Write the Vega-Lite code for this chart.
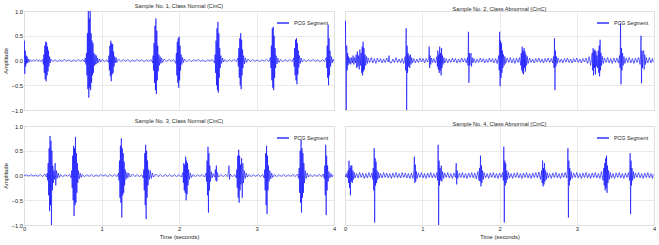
{
"$schema": "https://vega.github.io/schema/vega-lite/v6.json",
"background": "white",
"padding": {"left": 2, "top": 3, "right": 4, "bottom": 2},
"config": {
 "font": "Liberation Sans",
 "view": {"stroke": "#cccccc", "strokeWidth": 1},
 "axis": {"grid": true, "gridColor": "#e3e3e3", "gridWidth": 0.8, "domain": false, "ticks": false, "labelFontSize": 5.8, "labelColor": "#262626", "titleFontSize": 5.8, "titleFontWeight": "normal", "titleColor": "#262626", "labelFlush": false, "minExtent": 0, "labelPadding": 1.5, "titlePadding": 2.5},
 "axisX": {"labelPadding": 0.5},
 "title": {"fontSize": 5.6, "fontWeight": "normal", "offset": -1.5, "color": "#262626"},
 "legend": {"title": null, "orient": "top-right", "offset": 5, "symbolType": "stroke", "symbolSize": 144, "symbolStrokeWidth": 1.2, "labelFontSize": 5.3, "labelColor": "#262626", "labelOffset": 4, "padding": 0}
},
"columns": 2,
"align": "each",
"spacing": {"row": 4, "column": 5},
"resolve": {"scale": {"color": "independent"}, "legend": {"color": "independent"}},
"datasets": {
"s1": [{"t":0,"a":0.05},{"t":0.004,"a":0.4},{"t":0.01,"a":-0.27},{"t":0.016,"a":0.2},{"t":0.022,"a":-0.12},{"t":0.028,"a":0.1},{"t":0.034,"a":-0.06},{"t":0.04,"a":0.08},{"t":0.048,"a":-0.05},{"t":0.056,"a":0.03},{"t":0.066,"a":-0.03},
{"t":0.08,"a":0.02},{"t":0.1,"a":-0.02},{"t":0.12,"a":0.015},{"t":0.14,"a":-0.01},{"t":0.16,"a":0.02},{"t":0.18,"a":-0.015},{"t":0.2,"a":0.01},{"t":0.22,"a":-0.02},{"t":0.24,"a":0.02},
{"t":0.25,"a":-0.08},{"t":0.256,"a":0.12},{"t":0.262,"a":-0.25},{"t":0.268,"a":0.3},{"t":0.274,"a":-0.38},{"t":0.28,"a":0.38},{"t":0.286,"a":-0.42},{"t":0.292,"a":0.36},{"t":0.298,"a":-0.3},{"t":0.304,"a":0.28},{"t":0.31,"a":-0.22},{"t":0.316,"a":0.2},{"t":0.322,"a":-0.12},{"t":0.33,"a":0.08},{"t":0.338,"a":-0.05},{"t":0.346,"a":0.03},
{"t":0.37,"a":-0.02},{"t":0.4,"a":0.015},{"t":0.43,"a":-0.02},{"t":0.46,"a":0.01},{"t":0.49,"a":-0.015},{"t":0.52,"a":0.02},{"t":0.55,"a":-0.01},{"t":0.58,"a":0.015},{"t":0.61,"a":-0.02},{"t":0.64,"a":0.01},{"t":0.67,"a":-0.015},{"t":0.7,"a":0.02},{"t":0.73,"a":-0.01},{"t":0.76,"a":0.02},{"t":0.78,"a":-0.03},
{"t":0.79,"a":0.05},{"t":0.8,"a":-0.08},{"t":0.806,"a":0.15},{"t":0.812,"a":-0.3},{"t":0.818,"a":0.55},{"t":0.824,"a":-0.58},{"t":0.83,"a":1.05},{"t":0.836,"a":-0.75},{"t":0.842,"a":0.85},{"t":0.848,"a":-0.55},{"t":0.854,"a":1.05},{"t":0.86,"a":-0.6},{"t":0.866,"a":0.55},{"t":0.872,"a":-0.45},{"t":0.878,"a":0.4},{"t":0.884,"a":-0.3},{"t":0.89,"a":0.35},{"t":0.896,"a":-0.25},{"t":0.902,"a":0.15},{"t":0.91,"a":-0.1},{"t":0.918,"a":0.12},{"t":0.926,"a":-0.08},{"t":0.934,"a":0.1},{"t":0.942,"a":-0.06},{"t":0.95,"a":0.05},{"t":0.96,"a":-0.04},{"t":0.975,"a":0.03},{"t":0.99,"a":-0.03},
{"t":1.01,"a":0.02},{"t":1.04,"a":-0.02},{"t":1.07,"a":0.015},
{"t":1.09,"a":-0.04},{"t":1.096,"a":0.1},{"t":1.102,"a":-0.2},{"t":1.108,"a":0.3},{"t":1.114,"a":-0.32},{"t":1.12,"a":0.4},{"t":1.126,"a":-0.42},{"t":1.132,"a":0.35},{"t":1.138,"a":-0.28},{"t":1.144,"a":0.33},{"t":1.15,"a":-0.25},{"t":1.156,"a":0.18},{"t":1.162,"a":-0.12},{"t":1.17,"a":0.08},{"t":1.178,"a":-0.05},{"t":1.188,"a":0.06},{"t":1.198,"a":-0.04},
{"t":1.22,"a":0.03},{"t":1.25,"a":-0.02},{"t":1.28,"a":0.02},{"t":1.31,"a":-0.015},{"t":1.34,"a":0.02},{"t":1.37,"a":-0.02},{"t":1.4,"a":0.01},{"t":1.43,"a":-0.015},{"t":1.46,"a":0.02},{"t":1.49,"a":-0.01},{"t":1.52,"a":0.015},{"t":1.55,"a":-0.02},{"t":1.58,"a":0.01},{"t":1.61,"a":-0.015},{"t":1.64,"a":0.02},
{"t":1.66,"a":-0.05},{"t":1.666,"a":0.1},{"t":1.672,"a":-0.2},{"t":1.678,"a":0.35},{"t":1.684,"a":-0.45},{"t":1.69,"a":0.7},{"t":1.696,"a":-0.6},{"t":1.702,"a":0.85},{"t":1.708,"a":-0.68},{"t":1.714,"a":0.6},{"t":1.72,"a":-0.4},{"t":1.726,"a":0.3},{"t":1.732,"a":-0.22},{"t":1.74,"a":0.12},{"t":1.748,"a":-0.1},{"t":1.756,"a":0.08},{"t":1.766,"a":-0.06},{"t":1.776,"a":0.05},{"t":1.79,"a":-0.04},
{"t":1.81,"a":0.03},{"t":1.84,"a":-0.02},{"t":1.87,"a":0.02},{"t":1.9,"a":-0.015},{"t":1.93,"a":0.02},
{"t":1.96,"a":-0.06},{"t":1.966,"a":0.15},{"t":1.972,"a":-0.3},{"t":1.978,"a":0.38},{"t":1.984,"a":-0.45},{"t":1.99,"a":0.45},{"t":1.996,"a":-0.55},{"t":2.002,"a":0.48},{"t":2.008,"a":-0.4},{"t":2.014,"a":0.3},{"t":2.02,"a":-0.2},{"t":2.028,"a":0.12},{"t":2.036,"a":-0.08},{"t":2.046,"a":0.06},{"t":2.058,"a":-0.04},
{"t":2.07,"a":0.03},{"t":2.1,"a":-0.02},{"t":2.13,"a":0.02},{"t":2.16,"a":-0.02},{"t":2.19,"a":0.015},{"t":2.22,"a":-0.01},{"t":2.25,"a":0.02},{"t":2.28,"a":-0.015},{"t":2.31,"a":0.01},{"t":2.34,"a":-0.02},{"t":2.37,"a":0.015},{"t":2.4,"a":-0.01},{"t":2.43,"a":0.02},
{"t":2.46,"a":-0.05},{"t":2.466,"a":0.12},{"t":2.472,"a":-0.25},{"t":2.478,"a":0.4},{"t":2.484,"a":-0.5},{"t":2.49,"a":0.65},{"t":2.496,"a":-0.6},{"t":2.502,"a":0.78},{"t":2.508,"a":-0.65},{"t":2.514,"a":0.55},{"t":2.52,"a":-0.35},{"t":2.526,"a":0.25},{"t":2.532,"a":-0.15},{"t":2.54,"a":0.1},{"t":2.55,"a":-0.06},{"t":2.562,"a":0.05},{"t":2.575,"a":-0.03},
{"t":2.59,"a":0.02},{"t":2.62,"a":-0.02},{"t":2.65,"a":0.015},{"t":2.68,"a":-0.015},{"t":2.71,"a":0.02},{"t":2.74,"a":-0.02},
{"t":2.76,"a":0.05},{"t":2.766,"a":-0.12},{"t":2.772,"a":0.25},{"t":2.778,"a":-0.35},{"t":2.784,"a":0.45},{"t":2.79,"a":-0.5},{"t":2.796,"a":0.55},{"t":2.802,"a":-0.58},{"t":2.808,"a":0.42},{"t":2.814,"a":-0.3},{"t":2.82,"a":0.22},{"t":2.826,"a":-0.15},{"t":2.834,"a":0.1},{"t":2.844,"a":-0.07},{"t":2.856,"a":0.05},{"t":2.87,"a":-0.04},
{"t":2.89,"a":0.03},{"t":2.92,"a":-0.02},{"t":2.95,"a":0.02},{"t":2.98,"a":-0.015},{"t":3.01,"a":0.01},{"t":3.04,"a":-0.02},{"t":3.07,"a":0.015},{"t":3.1,"a":-0.01},{"t":3.13,"a":0.02},{"t":3.16,"a":-0.02},
{"t":3.18,"a":0.06},{"t":3.186,"a":-0.15},{"t":3.192,"a":0.3},{"t":3.198,"a":-0.4},{"t":3.204,"a":0.65},{"t":3.21,"a":-0.55},{"t":3.216,"a":0.68},{"t":3.222,"a":-0.6},{"t":3.228,"a":0.5},{"t":3.234,"a":-0.35},{"t":3.24,"a":0.25},{"t":3.246,"a":-0.15},{"t":3.254,"a":0.1},{"t":3.264,"a":-0.07},{"t":3.276,"a":0.05},{"t":3.29,"a":-0.04},
{"t":3.31,"a":0.02},{"t":3.34,"a":-0.02},{"t":3.37,"a":0.015},{"t":3.4,"a":-0.015},{"t":3.43,"a":0.02},{"t":3.46,"a":-0.02},
{"t":3.48,"a":0.05},{"t":3.486,"a":-0.12},{"t":3.492,"a":0.25},{"t":3.498,"a":-0.3},{"t":3.504,"a":0.42},{"t":3.51,"a":-0.4},{"t":3.516,"a":0.45},{"t":3.522,"a":-0.48},{"t":3.528,"a":0.35},{"t":3.534,"a":-0.28},{"t":3.54,"a":0.2},{"t":3.546,"a":-0.14},{"t":3.554,"a":0.1},{"t":3.564,"a":-0.06},{"t":3.576,"a":0.05},{"t":3.59,"a":-0.03},
{"t":3.61,"a":0.02},{"t":3.64,"a":-0.02},{"t":3.67,"a":0.015},{"t":3.7,"a":-0.01},{"t":3.73,"a":0.02},{"t":3.76,"a":-0.015},{"t":3.79,"a":0.01},{"t":3.82,"a":-0.02},{"t":3.85,"a":0.015},{"t":3.88,"a":-0.02},
{"t":3.9,"a":0.06},{"t":3.906,"a":-0.15},{"t":3.912,"a":0.3},{"t":3.918,"a":-0.35},{"t":3.924,"a":0.72},{"t":3.93,"a":-0.5},{"t":3.936,"a":0.45},{"t":3.942,"a":-0.3},{"t":3.948,"a":0.2},{"t":3.956,"a":-0.12},{"t":3.966,"a":0.08},{"t":3.976,"a":-0.05},{"t":3.988,"a":0.03},{"t":3.998,"a":-0.02}],
"s2": [{"t":0,"a":0.2},{"t":0.006,"a":0.8},{"t":0.012,"a":-0.5},{"t":0.016,"a":-1},{"t":0.022,"a":0.3},{"t":0.028,"a":-0.2},{"t":0.034,"a":0.15},{"t":0.04,"a":-0.1},{"t":0.048,"a":0.08},{"t":0.056,"a":-0.06},{"t":0.064,"a":0.05},{"t":0.075,"a":-0.08},{"t":0.085,"a":0.06},{"t":0.095,"a":-0.05},{"t":0.105,"a":0.1},{"t":0.115,"a":-0.08},{"t":0.125,"a":0.06},{"t":0.135,"a":-0.05},
{"t":0.145,"a":0.12},{"t":0.152,"a":-0.15},{"t":0.16,"a":0.18},{"t":0.168,"a":-0.12},{"t":0.176,"a":0.1},{"t":0.184,"a":-0.18},{"t":0.192,"a":0.22},{"t":0.2,"a":-0.1},{"t":0.208,"a":0.15},{"t":0.216,"a":-0.25},{"t":0.222,"a":0.28},{"t":0.228,"a":-0.3},{"t":0.234,"a":0.38},{"t":0.24,"a":-0.22},{"t":0.246,"a":0.25},{"t":0.252,"a":-0.18},{"t":0.26,"a":0.12},{"t":0.268,"a":-0.1},{"t":0.278,"a":0.08},{"t":0.29,"a":-0.06},
{"t":0.3,"a":0.05},{"t":0.32,"a":-0.04},{"t":0.34,"a":0.06},{"t":0.36,"a":-0.05},{"t":0.38,"a":0.04},{"t":0.4,"a":-0.06},{"t":0.42,"a":0.05},{"t":0.44,"a":-0.03},{"t":0.46,"a":0.04},{"t":0.48,"a":-0.05},{"t":0.5,"a":0.03},{"t":0.52,"a":-0.04},{"t":0.54,"a":0.05},{"t":0.56,"a":-0.03},{"t":0.57,"a":0.1},{"t":0.58,"a":-0.04},{"t":0.6,"a":-0.05},{"t":0.62,"a":0.03},{"t":0.64,"a":-0.04},{"t":0.66,"a":0.06},{"t":0.68,"a":-0.04},{"t":0.7,"a":0.03},{"t":0.72,"a":-0.05},{"t":0.74,"a":0.04},{"t":0.76,"a":-0.06},
{"t":0.78,"a":0.08},{"t":0.786,"a":-0.2},{"t":0.792,"a":0.65},{"t":0.798,"a":-1},{"t":0.804,"a":0.3},{"t":0.81,"a":-0.25},{"t":0.816,"a":0.15},{"t":0.822,"a":-0.12},{"t":0.83,"a":0.1},{"t":0.838,"a":-0.15},{"t":0.846,"a":0.12},{"t":0.854,"a":-0.08},{"t":0.864,"a":0.06},{"t":0.874,"a":-0.05},
{"t":0.89,"a":0.04},{"t":0.91,"a":-0.05},{"t":0.93,"a":0.03},{"t":0.95,"a":-0.04},{"t":0.97,"a":0.05},{"t":0.99,"a":-0.03},{"t":1.01,"a":0.04},{"t":1.03,"a":-0.05},{"t":1.05,"a":0.04},{"t":1.07,"a":-0.03},
{"t":1.085,"a":0.05},{"t":1.09,"a":0.28},{"t":1.096,"a":-0.15},{"t":1.102,"a":0.1},{"t":1.11,"a":-0.08},{"t":1.12,"a":0.05},{"t":1.135,"a":-0.04},{"t":1.15,"a":0.04},{"t":1.17,"a":-0.05},
{"t":1.19,"a":0.08},{"t":1.196,"a":-0.12},{"t":1.202,"a":0.2},{"t":1.208,"a":-0.18},{"t":1.214,"a":0.12},{"t":1.22,"a":-0.25},{"t":1.226,"a":0.28},{"t":1.232,"a":-0.2},{"t":1.238,"a":0.15},{"t":1.244,"a":-0.3},{"t":1.25,"a":0.25},{"t":1.256,"a":-0.15},{"t":1.262,"a":0.1},{"t":1.27,"a":-0.08},{"t":1.28,"a":0.06},{"t":1.292,"a":-0.05},
{"t":1.31,"a":0.04},{"t":1.33,"a":-0.05},{"t":1.35,"a":0.03},{"t":1.37,"a":-0.04},{"t":1.39,"a":0.05},{"t":1.41,"a":-0.03},{"t":1.43,"a":0.04},{"t":1.45,"a":-0.05},{"t":1.47,"a":0.03},{"t":1.49,"a":-0.04},{"t":1.51,"a":0.05},{"t":1.53,"a":-0.03},{"t":1.55,"a":0.04},{"t":1.57,"a":-0.05},
{"t":1.585,"a":0.06},{"t":1.592,"a":-0.1},{"t":1.598,"a":0.58},{"t":1.604,"a":-0.45},{"t":1.61,"a":0.15},{"t":1.616,"a":-0.1},{"t":1.624,"a":0.08},{"t":1.632,"a":0.15},{"t":1.638,"a":-0.12},{"t":1.646,"a":0.06},{"t":1.656,"a":-0.05},
{"t":1.67,"a":0.04},{"t":1.69,"a":-0.05},{"t":1.71,"a":0.03},{"t":1.73,"a":-0.04},{"t":1.75,"a":0.05},{"t":1.77,"a":-0.03},{"t":1.79,"a":0.04},{"t":1.81,"a":-0.05},{"t":1.83,"a":0.03},{"t":1.85,"a":-0.04},{"t":1.87,"a":0.05},{"t":1.89,"a":-0.03},{"t":1.91,"a":0.04},{"t":1.93,"a":-0.05},{"t":1.95,"a":0.04},{"t":1.97,"a":-0.06},
{"t":1.99,"a":0.1},{"t":1.996,"a":-0.2},{"t":2.002,"a":0.58},{"t":2.008,"a":-0.52},{"t":2.014,"a":0.4},{"t":2.02,"a":-0.35},{"t":2.026,"a":0.35},{"t":2.032,"a":-0.25},{"t":2.038,"a":0.2},{"t":2.044,"a":-0.15},{"t":2.052,"a":0.12},{"t":2.06,"a":-0.1},{"t":2.07,"a":0.08},{"t":2.08,"a":-0.06},
{"t":2.1,"a":0.05},{"t":2.12,"a":-0.04},{"t":2.14,"a":0.06},{"t":2.16,"a":-0.05},{"t":2.18,"a":0.04},{"t":2.2,"a":-0.06},{"t":2.22,"a":0.05},{"t":2.24,"a":-0.04},{"t":2.26,"a":0.06},
{"t":2.275,"a":-0.1},{"t":2.282,"a":0.15},{"t":2.288,"a":-0.2},{"t":2.294,"a":0.28},{"t":2.3,"a":-0.25},{"t":2.306,"a":0.2},{"t":2.312,"a":-0.28},{"t":2.318,"a":0.25},{"t":2.324,"a":-0.15},{"t":2.33,"a":0.18},{"t":2.336,"a":-0.22},{"t":2.342,"a":0.12},{"t":2.35,"a":-0.1},{"t":2.36,"a":0.08},{"t":2.37,"a":-0.06},
{"t":2.39,"a":0.05},{"t":2.41,"a":-0.04},{"t":2.43,"a":0.03},{"t":2.45,"a":-0.05},{"t":2.47,"a":0.04},{"t":2.49,"a":-0.03},{"t":2.51,"a":0.05},{"t":2.53,"a":-0.04},{"t":2.55,"a":0.03},{"t":2.57,"a":-0.05},{"t":2.59,"a":0.04},{"t":2.61,"a":-0.03},{"t":2.63,"a":0.05},{"t":2.65,"a":-0.04},{"t":2.67,"a":0.04},{"t":2.69,"a":-0.05},
{"t":2.7,"a":0.08},{"t":2.706,"a":-0.15},{"t":2.712,"a":0.45},{"t":2.718,"a":-0.6},{"t":2.724,"a":0.2},{"t":2.73,"a":-0.12},{"t":2.738,"a":0.08},{"t":2.748,"a":-0.06},{"t":2.758,"a":0.05},
{"t":2.78,"a":-0.04},{"t":2.8,"a":0.03},{"t":2.82,"a":-0.05},{"t":2.84,"a":0.04},{"t":2.86,"a":-0.03},{"t":2.88,"a":0.05},{"t":2.9,"a":-0.04},{"t":2.92,"a":0.03},{"t":2.94,"a":-0.05},{"t":2.96,"a":0.04},{"t":2.98,"a":-0.03},{"t":3,"a":0.05},{"t":3.02,"a":-0.04},{"t":3.04,"a":0.03},{"t":3.06,"a":-0.05},{"t":3.08,"a":0.04},{"t":3.1,"a":-0.03},{"t":3.12,"a":0.05},{"t":3.14,"a":-0.06},{"t":3.16,"a":0.08},{"t":3.18,"a":-0.1},
{"t":3.2,"a":0.15},{"t":3.206,"a":-0.2},{"t":3.212,"a":0.25},{"t":3.218,"a":-0.3},{"t":3.224,"a":0.2},{"t":3.23,"a":-0.15},{"t":3.236,"a":0.22},{"t":3.242,"a":-0.28},{"t":3.248,"a":0.18},{"t":3.254,"a":-0.12},{"t":3.262,"a":0.1},{"t":3.27,"a":-0.15},{"t":3.278,"a":0.2},{"t":3.284,"a":-0.25},{"t":3.29,"a":0.3},{"t":3.296,"a":-0.32},{"t":3.302,"a":0.42},{"t":3.308,"a":-0.2},{"t":3.314,"a":0.15},{"t":3.322,"a":-0.1},{"t":3.332,"a":0.08},{"t":3.344,"a":-0.06},
{"t":3.36,"a":0.05},{"t":3.38,"a":-0.04},{"t":3.4,"a":0.06},{"t":3.42,"a":-0.05},{"t":3.44,"a":0.04},{"t":3.46,"a":-0.06},{"t":3.48,"a":0.05},{"t":3.5,"a":-0.04},{"t":3.52,"a":0.05},{"t":3.54,"a":-0.05},
{"t":3.555,"a":0.1},{"t":3.561,"a":-0.15},{"t":3.567,"a":0.75},{"t":3.573,"a":-0.48},{"t":3.579,"a":0.25},{"t":3.585,"a":-0.2},{"t":3.593,"a":0.15},{"t":3.601,"a":-0.1},{"t":3.611,"a":0.08},{"t":3.623,"a":-0.06},
{"t":3.64,"a":0.05},{"t":3.66,"a":-0.04},{"t":3.68,"a":0.06},{"t":3.7,"a":-0.05},{"t":3.72,"a":0.04},{"t":3.74,"a":-0.06},{"t":3.76,"a":0.05},{"t":3.78,"a":-0.04},{"t":3.8,"a":0.06},
{"t":3.82,"a":-0.08},{"t":3.826,"a":0.12},{"t":3.832,"a":0.5},{"t":3.838,"a":-0.46},{"t":3.844,"a":0.2},{"t":3.85,"a":-0.15},{"t":3.858,"a":0.12},{"t":3.866,"a":0.2},{"t":3.872,"a":-0.18},{"t":3.88,"a":0.12},{"t":3.89,"a":-0.08},{"t":3.9,"a":0.06},
{"t":3.92,"a":-0.05},{"t":3.94,"a":0.06},{"t":3.96,"a":-0.05},{"t":3.98,"a":0.04},{"t":3.99,"a":-0.03}],
"s3": [{"t":0,"a":0},{"t":0.03,"a":0.01},{"t":0.06,"a":-0.01},{"t":0.09,"a":0.015},{"t":0.12,"a":-0.01},{"t":0.15,"a":0.01},{"t":0.18,"a":-0.015},{"t":0.21,"a":0.02},{"t":0.24,"a":-0.02},{"t":0.27,"a":0.03},{"t":0.29,"a":-0.03},
{"t":0.3,"a":0.05},{"t":0.306,"a":-0.1},{"t":0.312,"a":0.25},{"t":0.318,"a":-0.4},{"t":0.324,"a":0.55},{"t":0.33,"a":-0.72},{"t":0.336,"a":0.8},{"t":0.342,"a":-0.6},{"t":0.348,"a":0.7},{"t":0.354,"a":-1},{"t":0.36,"a":0.5},{"t":0.366,"a":-0.3},{"t":0.372,"a":0.2},{"t":0.378,"a":-0.15},{"t":0.386,"a":0.1},{"t":0.394,"a":-0.08},{"t":0.402,"a":0.25},{"t":0.41,"a":-0.2},{"t":0.418,"a":0.1},{"t":0.428,"a":-0.06},{"t":0.44,"a":0.05},{"t":0.455,"a":-0.04},
{"t":0.47,"a":0.02},{"t":0.5,"a":-0.02},{"t":0.53,"a":0.015},{"t":0.56,"a":-0.01},{"t":0.59,"a":0.02},
{"t":0.61,"a":-0.05},{"t":0.616,"a":0.1},{"t":0.622,"a":-0.25},{"t":0.628,"a":0.4},{"t":0.634,"a":-0.5},{"t":0.64,"a":0.6},{"t":0.646,"a":-0.82},{"t":0.652,"a":0.55},{"t":0.658,"a":-0.6},{"t":0.664,"a":0.78},{"t":0.67,"a":-0.55},{"t":0.676,"a":0.45},{"t":0.682,"a":-0.35},{"t":0.688,"a":0.25},{"t":0.694,"a":-0.15},{"t":0.702,"a":0.1},{"t":0.712,"a":-0.07},{"t":0.724,"a":0.05},{"t":0.738,"a":-0.04},
{"t":0.75,"a":0.02},{"t":0.78,"a":-0.02},{"t":0.81,"a":0.015},{"t":0.84,"a":-0.015},{"t":0.87,"a":0.02},{"t":0.9,"a":-0.02},{"t":0.93,"a":0.01},{"t":0.96,"a":-0.015},{"t":0.99,"a":0.02},{"t":1.02,"a":-0.01},{"t":1.05,"a":0.015},{"t":1.08,"a":-0.02},{"t":1.11,"a":0.02},{"t":1.14,"a":-0.015},{"t":1.17,"a":0.02},{"t":1.2,"a":-0.02},
{"t":1.22,"a":0.05},{"t":1.226,"a":-0.1},{"t":1.232,"a":0.3},{"t":1.238,"a":-0.45},{"t":1.244,"a":0.6},{"t":1.25,"a":-0.55},{"t":1.256,"a":0.75},{"t":1.262,"a":-0.85},{"t":1.268,"a":0.55},{"t":1.274,"a":-0.4},{"t":1.28,"a":0.45},{"t":1.286,"a":-0.35},{"t":1.292,"a":0.28},{"t":1.298,"a":-0.2},{"t":1.306,"a":0.12},{"t":1.316,"a":-0.08},{"t":1.328,"a":0.06},{"t":1.34,"a":-0.05},{"t":1.352,"a":0.05},
{"t":1.37,"a":-0.03},{"t":1.4,"a":0.03},{"t":1.43,"a":-0.02},{"t":1.46,"a":0.02},{"t":1.49,"a":-0.02},{"t":1.52,"a":0.015},
{"t":1.54,"a":-0.05},{"t":1.546,"a":0.12},{"t":1.552,"a":-0.3},{"t":1.558,"a":0.45},{"t":1.564,"a":-0.6},{"t":1.57,"a":0.62},{"t":1.576,"a":-0.88},{"t":1.582,"a":0.5},{"t":1.588,"a":-0.45},{"t":1.594,"a":0.3},{"t":1.6,"a":-0.2},{"t":1.608,"a":0.12},{"t":1.618,"a":-0.08},{"t":1.63,"a":0.1},{"t":1.642,"a":-0.06},{"t":1.656,"a":0.05},
{"t":1.67,"a":-0.03},{"t":1.7,"a":0.03},{"t":1.73,"a":-0.02},{"t":1.76,"a":0.02},{"t":1.79,"a":-0.02},{"t":1.82,"a":0.02},{"t":1.85,"a":-0.015},{"t":1.88,"a":0.02},{"t":1.91,"a":-0.02},{"t":1.94,"a":0.015},{"t":1.97,"a":-0.02},{"t":2,"a":0.02},{"t":2.03,"a":-0.03},
{"t":2.05,"a":0.06},{"t":2.056,"a":-0.15},{"t":2.062,"a":0.25},{"t":2.068,"a":-0.3},{"t":2.074,"a":0.22},{"t":2.08,"a":-0.35},{"t":2.086,"a":0.38},{"t":2.092,"a":-0.5},{"t":2.098,"a":0.3},{"t":2.104,"a":-0.38},{"t":2.11,"a":0.25},{"t":2.116,"a":-0.2},{"t":2.124,"a":0.12},{"t":2.134,"a":-0.08},{"t":2.146,"a":0.05},{"t":2.16,"a":-0.04},
{"t":2.18,"a":0.02},{"t":2.21,"a":-0.02},{"t":2.24,"a":0.015},{"t":2.27,"a":-0.015},{"t":2.3,"a":0.02},{"t":2.33,"a":-0.03},
{"t":2.35,"a":0.05},{"t":2.356,"a":-0.12},{"t":2.362,"a":0.3},{"t":2.368,"a":-0.4},{"t":2.374,"a":0.58},{"t":2.38,"a":-0.75},{"t":2.386,"a":0.45},{"t":2.392,"a":-0.3},{"t":2.398,"a":0.2},{"t":2.406,"a":-0.12},{"t":2.416,"a":0.08},{"t":2.428,"a":-0.05},{"t":2.44,"a":0.04},
{"t":2.46,"a":-0.03},{"t":2.47,"a":0.12},{"t":2.476,"a":-0.1},{"t":2.482,"a":0.2},{"t":2.488,"a":-0.12},{"t":2.496,"a":0.06},{"t":2.51,"a":-0.03},{"t":2.54,"a":0.02},{"t":2.57,"a":-0.02},{"t":2.6,"a":0.02},{"t":2.63,"a":-0.02},
{"t":2.645,"a":0.2},{"t":2.652,"a":-0.08},{"t":2.66,"a":0.03},{"t":2.69,"a":-0.02},{"t":2.72,"a":0.02},
{"t":2.74,"a":-0.05},{"t":2.746,"a":0.12},{"t":2.752,"a":-0.25},{"t":2.758,"a":0.4},{"t":2.764,"a":-0.45},{"t":2.77,"a":0.52},{"t":2.776,"a":-0.55},{"t":2.782,"a":0.4},{"t":2.788,"a":-0.3},{"t":2.794,"a":0.22},{"t":2.8,"a":-0.18},{"t":2.808,"a":0.35},{"t":2.816,"a":-0.45},{"t":2.824,"a":0.25},{"t":2.832,"a":-0.15},{"t":2.842,"a":0.1},{"t":2.854,"a":-0.06},{"t":2.868,"a":0.05},{"t":2.882,"a":-0.03},
{"t":2.9,"a":0.02},{"t":2.93,"a":-0.02},{"t":2.96,"a":0.015},{"t":2.99,"a":-0.015},{"t":3.02,"a":0.02},{"t":3.05,"a":-0.02},{"t":3.08,"a":0.02},
{"t":3.1,"a":-0.05},{"t":3.106,"a":0.12},{"t":3.112,"a":-0.3},{"t":3.118,"a":0.45},{"t":3.124,"a":-0.6},{"t":3.13,"a":0.6},{"t":3.136,"a":-0.78},{"t":3.142,"a":0.4},{"t":3.148,"a":-0.3},{"t":3.154,"a":0.2},{"t":3.162,"a":-0.12},{"t":3.172,"a":0.1},{"t":3.184,"a":-0.07},{"t":3.196,"a":0.05},{"t":3.21,"a":-0.04},
{"t":3.23,"a":0.02},{"t":3.26,"a":-0.02},{"t":3.29,"a":0.015},{"t":3.32,"a":-0.015},{"t":3.35,"a":0.02},{"t":3.38,"a":-0.02},{"t":3.41,"a":0.015},{"t":3.44,"a":-0.015},{"t":3.47,"a":0.02},{"t":3.5,"a":-0.02},{"t":3.53,"a":0.03},
{"t":3.545,"a":-0.06},{"t":3.551,"a":0.15},{"t":3.557,"a":-0.35},{"t":3.563,"a":0.5},{"t":3.569,"a":-0.55},{"t":3.575,"a":0.72},{"t":3.581,"a":-0.75},{"t":3.587,"a":0.55},{"t":3.593,"a":-0.45},{"t":3.599,"a":0.45},{"t":3.605,"a":-0.35},{"t":3.611,"a":0.25},{"t":3.619,"a":-0.15},{"t":3.629,"a":0.1},{"t":3.641,"a":-0.06},{"t":3.655,"a":0.05},{"t":3.67,"a":-0.03},
{"t":3.69,"a":0.02},{"t":3.72,"a":-0.02},{"t":3.75,"a":0.015},{"t":3.78,"a":-0.015},{"t":3.81,"a":0.02},{"t":3.84,"a":-0.02},{"t":3.86,"a":0.03},
{"t":3.875,"a":-0.06},{"t":3.881,"a":0.2},{"t":3.887,"a":-0.4},{"t":3.893,"a":0.62},{"t":3.899,"a":-0.8},{"t":3.905,"a":0.4},{"t":3.911,"a":-0.3},{"t":3.917,"a":0.2},{"t":3.925,"a":-0.12},{"t":3.935,"a":0.08},{"t":3.947,"a":-0.05},{"t":3.96,"a":0.04},{"t":3.975,"a":-0.03},{"t":3.99,"a":0.02}],
"s4": [{"t":0,"a":0.02},{"t":0.01,"a":-0.03},{"t":0.02,"a":0.04},{"t":0.03,"a":-0.05},
{"t":0.04,"a":0.1},{"t":0.046,"a":-0.15},{"t":0.052,"a":0.3},{"t":0.058,"a":-0.25},{"t":0.064,"a":0.15},{"t":0.07,"a":-0.4},{"t":0.076,"a":0.2},{"t":0.082,"a":-0.12},{"t":0.088,"a":0.2},{"t":0.094,"a":-0.15},{"t":0.102,"a":0.1},{"t":0.11,"a":-0.08},{"t":0.12,"a":0.06},{"t":0.13,"a":-0.05},
{"t":0.15,"a":0.04},{"t":0.17,"a":-0.05},{"t":0.19,"a":0.06},{"t":0.21,"a":-0.04},{"t":0.23,"a":0.05},{"t":0.25,"a":-0.06},{"t":0.27,"a":0.04},{"t":0.29,"a":-0.05},{"t":0.31,"a":0.06},{"t":0.33,"a":-0.04},{"t":0.35,"a":0.05},
{"t":0.36,"a":-0.08},{"t":0.366,"a":0.15},{"t":0.372,"a":-0.3},{"t":0.378,"a":0.55},{"t":0.384,"a":-0.95},{"t":0.39,"a":0.35},{"t":0.396,"a":-0.2},{"t":0.402,"a":0.28},{"t":0.408,"a":-0.15},{"t":0.416,"a":0.1},{"t":0.424,"a":-0.08},{"t":0.434,"a":0.06},{"t":0.444,"a":-0.05},
{"t":0.46,"a":0.04},{"t":0.48,"a":-0.05},{"t":0.5,"a":0.06},{"t":0.52,"a":-0.04},{"t":0.54,"a":0.05},{"t":0.56,"a":-0.05},{"t":0.58,"a":0.04},{"t":0.6,"a":-0.06},{"t":0.62,"a":0.05},{"t":0.64,"a":-0.04},{"t":0.66,"a":0.06},{"t":0.68,"a":-0.05},{"t":0.7,"a":0.04},{"t":0.72,"a":-0.05},{"t":0.74,"a":0.06},{"t":0.76,"a":-0.04},{"t":0.78,"a":0.05},{"t":0.8,"a":-0.05},{"t":0.82,"a":0.04},{"t":0.84,"a":-0.06},{"t":0.86,"a":0.05},{"t":0.88,"a":-0.06},
{"t":0.892,"a":0.1},{"t":0.898,"a":0.38},{"t":0.904,"a":-0.15},{"t":0.91,"a":0.22},{"t":0.916,"a":-0.12},{"t":0.924,"a":0.08},{"t":0.934,"a":-0.06},
{"t":0.95,"a":0.05},{"t":0.97,"a":-0.04},{"t":0.99,"a":0.06},{"t":1.01,"a":-0.05},{"t":1.03,"a":0.04},{"t":1.05,"a":-0.06},{"t":1.07,"a":0.05},{"t":1.09,"a":-0.04},{"t":1.11,"a":0.06},{"t":1.13,"a":-0.05},{"t":1.15,"a":0.04},{"t":1.17,"a":-0.05},{"t":1.19,"a":0.06},
{"t":1.2,"a":-0.1},{"t":1.206,"a":0.62},{"t":1.212,"a":-1},{"t":1.218,"a":0.3},{"t":1.224,"a":-0.2},{"t":1.23,"a":0.15},{"t":1.238,"a":-0.1},{"t":1.246,"a":0.2},{"t":1.254,"a":-0.12},{"t":1.264,"a":0.08},{"t":1.276,"a":-0.06},
{"t":1.29,"a":0.05},{"t":1.31,"a":-0.04},{"t":1.33,"a":0.06},{"t":1.35,"a":-0.05},{"t":1.37,"a":0.04},{"t":1.39,"a":-0.06},{"t":1.41,"a":0.05},{"t":1.43,"a":-0.04},
{"t":1.44,"a":0.25},{"t":1.446,"a":-0.18},{"t":1.452,"a":0.1},{"t":1.46,"a":-0.06},
{"t":1.48,"a":0.05},{"t":1.5,"a":-0.04},{"t":1.52,"a":0.06},{"t":1.54,"a":-0.05},{"t":1.56,"a":0.04},{"t":1.58,"a":-0.06},{"t":1.6,"a":0.05},{"t":1.62,"a":-0.04},{"t":1.64,"a":0.06},{"t":1.66,"a":-0.05},{"t":1.68,"a":0.05},{"t":1.7,"a":-0.07},{"t":1.72,"a":0.08},
{"t":1.735,"a":-0.1},{"t":1.742,"a":0.15},{"t":1.748,"a":-0.12},{"t":1.754,"a":0.4},{"t":1.76,"a":-0.22},{"t":1.766,"a":0.2},{"t":1.772,"a":-0.15},{"t":1.78,"a":0.1},{"t":1.79,"a":-0.08},{"t":1.8,"a":0.06},
{"t":1.82,"a":-0.05},{"t":1.84,"a":0.04},{"t":1.86,"a":-0.06},{"t":1.88,"a":0.05},{"t":1.9,"a":-0.04},{"t":1.92,"a":0.06},{"t":1.94,"a":-0.05},{"t":1.96,"a":0.04},{"t":1.98,"a":-0.06},{"t":2,"a":0.05},{"t":2.02,"a":-0.04},{"t":2.04,"a":0.06},
{"t":2.05,"a":-0.1},{"t":2.056,"a":0.58},{"t":2.062,"a":-0.95},{"t":2.068,"a":0.3},{"t":2.074,"a":-0.2},{"t":2.08,"a":0.25},{"t":2.086,"a":-0.15},{"t":2.094,"a":0.1},{"t":2.104,"a":-0.08},{"t":2.116,"a":0.06},
{"t":2.13,"a":-0.05},{"t":2.15,"a":0.04},{"t":2.17,"a":-0.06},{"t":2.19,"a":0.05},{"t":2.21,"a":-0.04},{"t":2.23,"a":0.06},{"t":2.25,"a":-0.05},{"t":2.27,"a":0.04},{"t":2.29,"a":-0.06},{"t":2.31,"a":0.05},{"t":2.33,"a":-0.04},{"t":2.35,"a":0.06},{"t":2.37,"a":-0.05},{"t":2.39,"a":0.04},{"t":2.41,"a":-0.06},{"t":2.43,"a":0.05},{"t":2.45,"a":-0.04},{"t":2.47,"a":0.06},{"t":2.49,"a":-0.05},{"t":2.51,"a":0.07},{"t":2.53,"a":-0.08},
{"t":2.545,"a":0.1},{"t":2.552,"a":-0.15},{"t":2.558,"a":0.3},{"t":2.564,"a":-0.22},{"t":2.57,"a":0.15},{"t":2.576,"a":-0.18},{"t":2.582,"a":0.25},{"t":2.588,"a":-0.12},{"t":2.596,"a":0.1},{"t":2.606,"a":-0.08},{"t":2.616,"a":0.06},
{"t":2.63,"a":-0.05},{"t":2.65,"a":0.04},{"t":2.67,"a":-0.06},{"t":2.69,"a":0.05},{"t":2.71,"a":-0.04},{"t":2.73,"a":0.06},{"t":2.75,"a":-0.05},{"t":2.77,"a":0.04},{"t":2.79,"a":-0.06},{"t":2.81,"a":0.05},{"t":2.83,"a":-0.04},{"t":2.85,"a":0.06},{"t":2.87,"a":-0.05},
{"t":2.88,"a":0.1},{"t":2.886,"a":0.55},{"t":2.892,"a":-0.85},{"t":2.898,"a":0.3},{"t":2.904,"a":-0.2},{"t":2.91,"a":0.15},{"t":2.918,"a":-0.1},{"t":2.928,"a":0.08},{"t":2.94,"a":-0.06},
{"t":2.96,"a":0.05},{"t":2.98,"a":-0.04},{"t":3,"a":0.06},{"t":3.02,"a":-0.05},{"t":3.04,"a":0.04},{"t":3.06,"a":-0.06},{"t":3.08,"a":0.05},{"t":3.1,"a":-0.04},{"t":3.12,"a":0.06},{"t":3.14,"a":-0.05},{"t":3.16,"a":0.04},{"t":3.18,"a":-0.06},{"t":3.2,"a":0.05},{"t":3.22,"a":-0.04},{"t":3.24,"a":0.06},{"t":3.26,"a":-0.05},{"t":3.28,"a":0.04},{"t":3.3,"a":-0.06},{"t":3.32,"a":0.08},{"t":3.34,"a":-0.1},
{"t":3.35,"a":0.15},{"t":3.356,"a":-0.2},{"t":3.362,"a":0.25},{"t":3.368,"a":-0.3},{"t":3.374,"a":0.35},{"t":3.38,"a":-0.25},{"t":3.386,"a":0.4},{"t":3.392,"a":-0.35},{"t":3.398,"a":0.2},{"t":3.404,"a":-0.15},{"t":3.412,"a":0.1},{"t":3.422,"a":-0.08},{"t":3.434,"a":0.06},
{"t":3.45,"a":-0.05},{"t":3.47,"a":0.04},{"t":3.49,"a":-0.06},{"t":3.51,"a":0.05},{"t":3.53,"a":-0.04},{"t":3.55,"a":0.06},{"t":3.57,"a":-0.05},{"t":3.59,"a":0.04},{"t":3.61,"a":-0.06},{"t":3.63,"a":0.05},{"t":3.65,"a":-0.04},{"t":3.67,"a":0.06},
{"t":3.685,"a":-0.1},{"t":3.691,"a":0.45},{"t":3.697,"a":-0.78},{"t":3.703,"a":0.3},{"t":3.709,"a":-0.2},{"t":3.715,"a":0.15},{"t":3.723,"a":-0.1},{"t":3.733,"a":0.08},{"t":3.745,"a":-0.06},
{"t":3.76,"a":0.05},{"t":3.78,"a":-0.04},{"t":3.8,"a":0.06},{"t":3.82,"a":-0.05},{"t":3.84,"a":0.04},{"t":3.86,"a":-0.06},{"t":3.88,"a":0.05},{"t":3.9,"a":-0.04},{"t":3.92,"a":0.06},{"t":3.94,"a":-0.05},{"t":3.96,"a":0.04},{"t":3.98,"a":-0.06},{"t":3.99,"a":0.03}]
},
"concat": [
 {"title": "Sample No. 1, Class Normal (CinC)", "width": 310, "height": 99, "data": {"name": "s1"},
  "mark": {"type": "line", "strokeWidth": 0.6, "clip": true},
  "encoding": {
   "x": {"field": "t", "type": "quantitative", "scale": {"domain": [0, 4], "nice": false}, "axis": {"values": [0, 1, 2, 3, 4], "labels": false, "title": null}},
   "y": {"field": "a", "type": "quantitative", "scale": {"domain": [-1, 1], "nice": false}, "axis": {"values": [-1, -0.5, 0, 0.5, 1], "format": ".1f", "title": "Amplitude"}},
   "color": {"datum": "PCG Segment", "type": "nominal", "scale": {"range": ["#0000ff"]}}
  }},
 {"title": "Sample No. 2, Class Abnormal (CinC)", "width": 309, "height": 99, "data": {"name": "s2"},
  "mark": {"type": "line", "strokeWidth": 0.6, "clip": true},
  "encoding": {
   "x": {"field": "t", "type": "quantitative", "scale": {"domain": [0, 4], "nice": false}, "axis": {"values": [0, 1, 2, 3, 4], "labels": false, "title": null}},
   "y": {"field": "a", "type": "quantitative", "scale": {"domain": [-1, 1], "nice": false}, "axis": {"values": [-1, -0.5, 0, 0.5, 1], "labels": false, "title": null}},
   "color": {"datum": "PCG Segment", "type": "nominal", "scale": {"range": ["#0000ff"]}}
  }},
 {"title": "Sample No. 3, Class Normal (CinC)", "width": 310, "height": 99, "data": {"name": "s3"},
  "mark": {"type": "line", "strokeWidth": 0.6, "clip": true},
  "encoding": {
   "x": {"field": "t", "type": "quantitative", "scale": {"domain": [0, 4], "nice": false}, "axis": {"values": [0, 1, 2, 3, 4], "title": "Time (seconds)"}},
   "y": {"field": "a", "type": "quantitative", "scale": {"domain": [-1, 1], "nice": false}, "axis": {"values": [-1, -0.5, 0, 0.5, 1], "format": ".1f", "title": "Amplitude"}},
   "color": {"datum": "PCG Segment", "type": "nominal", "scale": {"range": ["#0000ff"]}}
  }},
 {"title": "Sample No. 4, Class Abnormal (CinC)", "width": 309, "height": 99, "data": {"name": "s4"},
  "mark": {"type": "line", "strokeWidth": 0.6, "clip": true},
  "encoding": {
   "x": {"field": "t", "type": "quantitative", "scale": {"domain": [0, 4], "nice": false}, "axis": {"values": [0, 1, 2, 3, 4], "title": "Time (seconds)"}},
   "y": {"field": "a", "type": "quantitative", "scale": {"domain": [-1, 1], "nice": false}, "axis": {"values": [-1, -0.5, 0, 0.5, 1], "labels": false, "title": null}},
   "color": {"datum": "PCG Segment", "type": "nominal", "scale": {"range": ["#0000ff"]}}
  }}
]
}
